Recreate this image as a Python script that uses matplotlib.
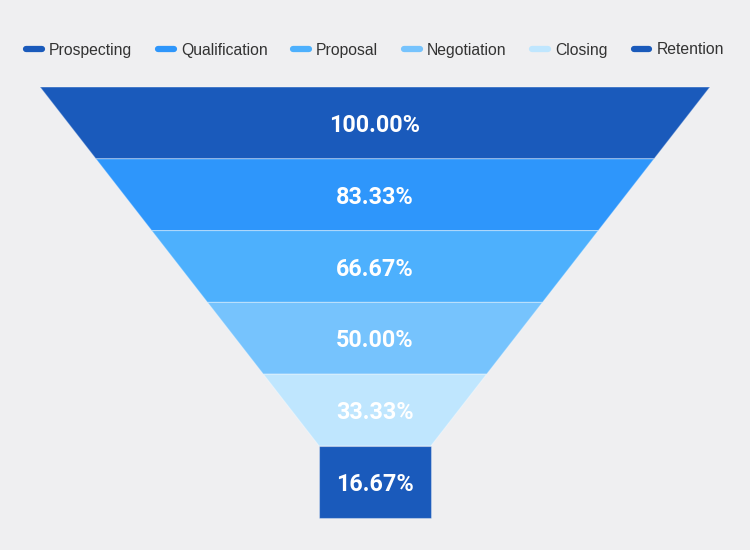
import matplotlib
matplotlib.use("Agg")
import matplotlib.pyplot as plt
from matplotlib.patches import Polygon
from matplotlib.lines import Line2D

stages = ["Prospecting", "Qualification", "Proposal", "Negotiation", "Closing", "Retention"]
values = [100.00, 83.33, 66.67, 50.00, 33.33, 16.67]
labels = ["100.00%", "83.33%", "66.67%", "50.00%", "33.33%", "16.67%"]
colors = ["#1a5abb", "#2e96fb", "#4db0fd", "#76c3fd", "#bfe6fe", "#1a5abb"]

W, H = 750, 550
fig = plt.figure(figsize=(7.5, 5.5), dpi=100)
fig.patch.set_facecolor("#efeff1")
ax = fig.add_axes([0, 0, 1, 1])
ax.set_xlim(0, W)
ax.set_ylim(H, 0)
ax.axis("off")

cx = 375
full_w = 670
top = 87
seg_h = 71.8
vmax = max(values)
n = len(values)
for i, (v, c, lab) in enumerate(zip(values, colors, labels)):
    w_top = full_w * v / vmax
    w_bot = full_w * values[i + 1] / vmax if i + 1 < n else w_top
    y0 = top + i * seg_h
    y1 = y0 + seg_h
    poly = Polygon([(cx - w_top / 2, y0), (cx + w_top / 2, y0),
                    (cx + w_bot / 2, y1), (cx - w_bot / 2, y1)],
                   closed=True, facecolor=c, edgecolor=(1, 1, 1, 0.35), linewidth=0.8)
    ax.add_patch(poly)
    ax.text(cx, (y0 + y1) / 2, lab, ha="center", va="center_baseline", color="white",
            fontsize=16.8, fontweight="bold", family="Roboto")

# legend
handles = [Line2D([0], [0], color=c, lw=4.5, solid_capstyle="round") for c in colors]
leg = fig.legend(handles, stages, loc="center", bbox_to_anchor=(0.5, 1 - 50 / H),
                 ncol=6, frameon=False, handlelength=1.0, handletextpad=0.45,
                 columnspacing=1.65, prop={"family": "Liberation Sans", "size": 11.3})
for t in leg.get_texts():
    t.set_color("#333333")

fig.savefig("out.png", dpi=100, facecolor=fig.get_facecolor())
